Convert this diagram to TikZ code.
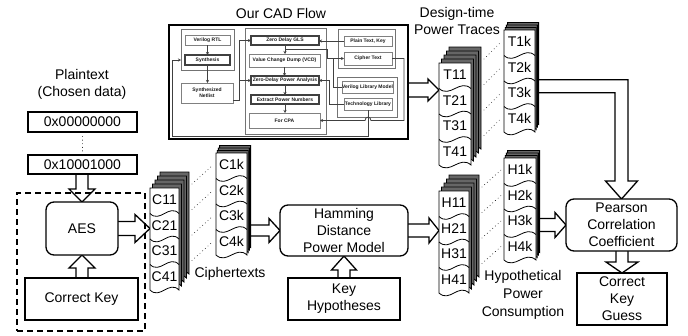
\documentclass[tikz,border=0pt]{standalone}
\usepackage{fontspec}
\setmainfont{Liberation Sans}
\usetikzlibrary{calc,fit,arrows.meta}
\pgfdeclarelayer{bg}
\pgfsetlayers{bg,main}

\tikzset{
  txt/.style={font=\fontsize{14}{17}\selectfont, inner sep=0pt, align=center},
  bigbox/.style={draw=black, line width=1.3pt, fill=white, inner sep=0pt, outer sep=0pt,
    align=center, font=\fontsize{14}{17}\selectfont},
  roundbox/.style={bigbox, rounded corners=8pt},
  dashbox/.style={draw=black, line width=1.3pt, dash pattern=on 6pt off 4pt, inner sep=0pt},
  blockarrow/.style={fill=white, draw=black, line width=1.3pt, line join=miter},
  cadframe/.style={draw=black, line width=1.8pt, fill=white, inner sep=0pt, outer sep=0pt},
  cadgroup/.style={draw=black!55, line width=0.9pt, fill=white, inner sep=0pt, outer sep=0pt},
  cadbox/.style={draw=black!50, line width=0.9pt, fill=white, inner sep=0pt, outer sep=0pt,
    align=center, font=\fontsize{5}{5.6}\selectfont\bfseries, text=black!90},
  cadboxk/.style={cadbox, draw=black!75, line width=1.5pt},
  cadline/.style={draw=black!75, line width=0.8pt},
  cadarrow/.style={cadline, -{Stealth[length=3pt,width=3pt]}},
  dotline/.style={line width=0.9pt, dash pattern=on 0pt off 3.6pt, line cap=round},
  sheet/.style={draw=black, line width=0.8pt, fill=white},
  backsheet/.style={draw=black, line width=0.9pt, fill=black!60},
}

\def\cellh{25.5}

% box given by two corners: style, name, x1, y1, x2, y2, text
\newcommand\cornerbox[7]{%
  \pgfmathsetmacro\cbx{(#3+#5)/2}\pgfmathsetmacro\cby{(#4+#6)/2}%
  \pgfmathsetmacro\cbw{#5-#3}\pgfmathsetmacro\cbh{#6-#4}%
  \node[#1, minimum width=\cbw pt, minimum height=\cbh pt] (#2) at (\cbx,\cby) {#7};}

% stack of document sheets: name, x, y(top), width, back sheets, dx, dy, label prefix, label suffix
\newcommand\docstack[9]{%
  \foreach \k in {#5,...,1}{%
    \path[backsheet] ({#2+\k*#6},{#3+\k*#7}) -- ++(#4,0) -- ++(0,{4*\cellh})
      .. controls +({-0.35*#4},-10) and +({0.35*#4},10) .. ++({-#4},0) -- cycle;
  }
  \path[sheet] (#2,#3) -- ++(#4,0) -- ++(0,{4*\cellh})
    .. controls +({-0.35*#4},-10) and +({0.35*#4},10) .. ++({-#4},0) -- cycle;
  \foreach \i in {1,2,3}{%
    \draw[line width=0.8pt] (#2,{#3+\i*\cellh})
      .. controls +({0.35*#4},10) and +({-0.35*#4},-10) .. ++(#4,0);
  }
  \node[inner sep=0pt, outer sep=0pt, fit={(#2,#3) ({#2+#4},{#3+4*\cellh})}] (#1) {};
  \foreach \i in {1,...,4}{%
    \node[txt] (#1-\i) at ({#2+#4/2},{#3+(\i-0.5)*\cellh-1}) {#8\i#9};
    \coordinate (#1-o\i) at ({#2+#4+#5*#6+3},{#3+(\i-1)*\cellh-4});
    \coordinate (#1-n\i) at ({#2-3},{#3+(\i-1)*\cellh+12});
  }%
}

% hollow block arrows: start, tip, body half width, head half width, head length
\newcommand\barrowR[5]{\path[blockarrow] let \p1=(#1), \p2=(#2) in
  (\x1,\y2+#3) -- (\x2-#5,\y2+#3) -- (\x2-#5,\y2+#4) -- (\x2,\y2)
  -- (\x2-#5,\y2-#4) -- (\x2-#5,\y2-#3) -- (\x1,\y2-#3);}
\newcommand\barrowD[5]{\path[blockarrow] let \p1=(#1), \p2=(#2) in
  (\x2-#3,\y1) -- (\x2-#3,\y2+#5) -- (\x2-#4,\y2+#5) -- (\x2,\y2)
  -- (\x2+#4,\y2+#5) -- (\x2+#3,\y2+#5) -- (\x2+#3,\y1);}
\newcommand\barrowU[5]{\path[blockarrow] let \p1=(#1), \p2=(#2) in
  (\x2-#3,\y1) -- (\x2-#3,\y2-#5) -- (\x2-#4,\y2-#5) -- (\x2,\y2)
  -- (\x2+#4,\y2-#5) -- (\x2+#3,\y2-#5) -- (\x2+#3,\y1);}

\begin{document}
\begin{tikzpicture}[x=1pt, y=-1pt]
\useasboundingbox (0,0) rectangle (688,335);

% ---------- CAD flow panel ----------
\node[txt] (title) at (281,13) {Our CAD Flow};
\cornerbox{cadframe}{cad}{169}{25}{408}{139}{}
\cornerbox{cadgroup}{g1}{181}{29}{234}{70}{}
\cornerbox{cadgroup}{g2}{245}{28}{326}{134}{}
\cornerbox{cadgroup}{g3}{338}{29}{395}{68}{}
\cornerbox{cadgroup}{g4}{337}{77}{397}{117}{}
\cornerbox{cadbox}{vrtl}{185}{35}{230}{45}{Verilog RTL}
\cornerbox{cadboxk}{synth}{185}{55}{230}{65}{Synthesis}
\cornerbox{cadbox}{netlist}{181}{83}{233}{103}{Synthesized\\Netlist}
\cornerbox{cadboxk}{gls}{251}{36}{319}{45}{Zero Delay GLS}
\cornerbox{cadbox}{vcd}{249}{54}{320}{67}{Value Change Dump (VCD)}
\cornerbox{cadboxk}{zdpa}{251}{76}{319}{85}{Zero-Delay Power Analysis}
\cornerbox{cadboxk}{epn}{251}{95}{319}{104}{Extract Power Numbers}
\cornerbox{cadbox}{cpa}{249}{113}{320}{128}{For CPA}
\cornerbox{cadbox}{ptk}{344}{36}{392}{46}{Plain Text, Key}
\cornerbox{cadbox}{ct}{344}{52}{392}{65}{Cipher Text}
\cornerbox{cadbox}{vlm}{342}{81}{393}{93}{Verilog Library Model}
\cornerbox{cadbox}{tech}{344}{98}{392}{110}{Technology Library}

\coordinate (cr) at (404,0);
\coordinate (fbl) at (172,136);
\coordinate (nj) at (239,0);
\coordinate (cx1) at (327,0);
\coordinate (cx2) at (333,0);
\coordinate (cx3) at (329,0);
\coordinate (ne) at ($(netlist.south east)+(0,-3)$);
\coordinate (cj) at ($(gls.south)!0.5!(vcd.north)$);
\coordinate (hopc) at (tech.south |- cpa.east);

\draw[cadarrow] (vrtl.south) -- (vrtl.south |- synth.north);
\draw[cadarrow] (synth.south) -- (synth.south |- netlist.north);
\draw[cadarrow] (gls.south) -- (gls.south |- vcd.north);
\draw[cadarrow] (vcd.south) -- (vcd.south |- zdpa.north);
\draw[cadarrow] (zdpa.south) -- (zdpa.south |- epn.north);
\draw[cadarrow] (epn.south) -- (epn.south |- cpa.north);
\draw[cadarrow] (ne) -| (nj |- gls) -- (gls.west);
\draw[cadarrow] (nj |- zdpa) -- (zdpa.west);
\draw[cadarrow] (ptk.west) -- (ptk.west -| gls.east);
\draw[cadarrow] (cj) -| (cx1 |- ct) -- (ct.west);
\draw[cadline] (vlm.west) -| (cx2 |- ct);
\draw[cadarrow] (tech.west) -| (cx3 |- zdpa) -- (zdpa.east);
\draw[cadarrow] (ct.east) -| (cr |- cpa) -- ($(hopc)+(3,0)$)
  .. controls +(0,-4.5) and +(0,-4.5) .. ($(hopc)+(-3,0)$) -- (cpa.east);
\draw[cadarrow] (tech.south) |- (fbl) |- (synth -| g1.west);

% ---------- left column ----------
\node[txt] (ptx) at (82,84) {Plaintext\\(Chosen data)};
\cornerbox{bigbox}{p1}{28}{112}{137}{132}{0x00000000}
\cornerbox{bigbox}{p2}{28}{155}{137}{174}{0x10001000}
\draw[dotline] ($(p1.south)+(0,4.5)$) -- ($(p2.north)+(0,-3)$);
\cornerbox{dashbox}{aesgrp}{17}{193}{145}{331}{}
\cornerbox{roundbox}{aes}{46}{202}{118}{255}{AES}
\cornerbox{bigbox}{ckey}{25}{278}{138}{320}{Correct Key}

% ---------- ciphertexts ----------
\docstack{cf}{150}{188}{29}{4}{2.5}{-4}{C}{1}
\docstack{ck}{216}{153}{31}{3}{1.2}{-2.5}{C}{k}
\foreach \i in {1,...,4} \draw[dotline] (cf-o\i) -- (ck-n\i);
\node[txt] (ctl) at (230,274) {Ciphertexts};

\cornerbox{roundbox}{ham}{280}{205}{408}{256}{Hamming\\Distance\\Power Model}
\cornerbox{bigbox}{keyh}{288}{278}{400}{320}{Key\\Hypotheses}

% ---------- traces ----------
\node[txt] (dtpt) at (457,21) {Design-time\\Power Traces};
\docstack{tf}{439}{63}{32}{4}{2.5}{-4}{T}{1}
\docstack{tk}{504}{30}{31}{3}{1.2}{-2.5}{T}{k}
\foreach \i in {1,...,4} \draw[dotline] (tf-o\i) -- (tk-n\i);

\docstack{hf}{439}{191}{30}{4}{2.5}{-4}{H}{1}
\docstack{hk}{504}{158}{32}{3}{1.2}{-2.5}{H}{k}
\foreach \i in {1,...,4} \draw[dotline] (hf-o\i) -- (hk-n\i);
\node[txt, font=\fontsize{14}{18}\selectfont] (hpc) at (523,295) {Hypothetical\\Power\\Consumption};

\cornerbox{roundbox}{pearson}{566}{199}{677}{251}{Pearson\\Correlation\\Coefficient}
\cornerbox{bigbox}{ckg}{577}{273}{667}{325}{Correct\\Key\\Guess}

% ---------- block arrows ----------
\coordinate (cadout) at ($(cad.east)+(0,8)$);
\begin{pgfonlayer}{bg}
\barrowD{p2.south}{aes.north}{6pt}{13pt}{13pt}
\barrowU{ckey.north}{aes.south}{6pt}{13pt}{13pt}
\barrowR{aes.east}{aes.east -| cf.west}{7pt}{14pt}{15pt}
\barrowR{ck.east}{ham.west}{5.5pt}{12pt}{11pt}
\barrowU{keyh.north}{ham.south}{6pt}{12.5pt}{14pt}
\barrowR{ham.east}{ham.east -| hf.west}{6.5pt}{12.5pt}{10pt}
\barrowR{hk.east}{pearson.west}{6.5pt}{12.5pt}{11pt}
\barrowR{cadout}{cadout -| tf.west}{7pt}{11pt}{11pt}
\barrowD{pearson.south}{ckg.north}{6pt}{16pt}{11pt}
\path[blockarrow] let \p1=(tk.east), \p2=(pearson.north), \p3=(tk-3) in
  (\x1,\y3) -- (\x2-6.5pt,\y3) -- (\x2-6.5pt,\y2+18pt) -- (\x2-16pt,\y2+18pt)
  -- (\x2,\y2) -- (\x2+16pt,\y2+18pt) -- (\x2+6.5pt,\y2+18pt)
  -- (\x2+6.5pt,\y3+13pt) -- (\x1,\y3+13pt);
\end{pgfonlayer}
\end{tikzpicture}
\end{document}
